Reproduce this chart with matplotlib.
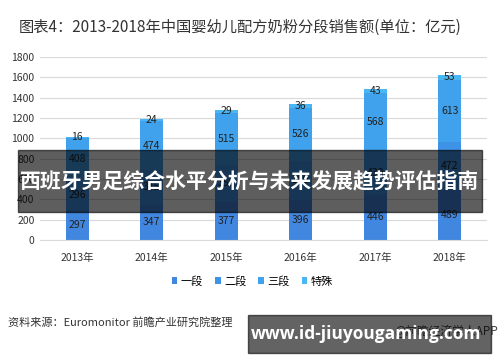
import matplotlib
matplotlib.use("Agg")
from matplotlib import pyplot as plt
import numpy as np

plt.rcParams['font.family'] = ['Noto Sans CJK SC', 'DejaVu Sans']

# 数据
years = ["2013年", "2014年", "2015年", "2016年", "2017年", "2018年"]
seg1 = [297, 347, 377, 396, 446, 489]
seg2 = [296, 345, 358, 380, 430, 472]
seg3 = [408, 474, 515, 526, 568, 613]
special = [16, 24, 29, 36, 43, 53]
series_names = ["一段", "二段", "三段", "特殊"]
colors = ["#4287df", "#3f93e6", "#40a2ec", "#4ab6f3"]
y_ticks = [0, 200, 400, 600, 800, 1000, 1200, 1400, 1600, 1800]

fig = plt.figure(figsize=(5, 3.62), dpi=100)
ax = fig.add_axes([0.08, 0.337, 0.894, 0.5055])

x = np.arange(len(years))
bottom = np.zeros(len(years))
for vals, name, col in zip([seg1, seg2, seg3, special], series_names, colors):
    bars = ax.bar(x, vals, width=0.31, bottom=bottom, color=col, label=name, zorder=2)
    for b, v, b0 in zip(bars, vals, bottom):
        ax.text(b.get_x() + b.get_width() / 2, b0 + v / 2, str(v),
                ha='center', va='center', fontsize=7.5, color='#222222', zorder=3)
    bottom += np.array(vals)

ax.set_xlim(-0.5, len(years) - 0.5)
ax.set_ylim(0, 1800)
ax.set_yticks(y_ticks)
ax.set_yticklabels([str(t) for t in y_ticks], fontsize=7.5, color='#333333')
ax.set_xticks(x)
ax.set_xticklabels(years, fontsize=7.5, color='#333333')
ax.tick_params(length=0, pad=4)
ax.tick_params(axis='x', pad=9)
ax.grid(axis='y', color='#d9d9d9', linewidth=0.8, zorder=0)
for s in ['top', 'right', 'left']:
    ax.spines[s].set_visible(False)
ax.spines['bottom'].set_color('#d9d9d9')

ax.legend(loc='center', bbox_to_anchor=(0.475, -0.225), ncol=4, frameon=False,
          fontsize=8, handlelength=0.5, handleheight=0.5, handletextpad=0.3,
          columnspacing=1.1)

fig.text(0.48, 0.925, "图表4：2013-2018年中国婴幼儿配方奶粉分段销售额(单位：亿元)",
         ha='center', va='center', fontsize=11, color='#333333')
fig.text(0.016, 0.11, "资料来源：Euromonitor 前瞻产业研究院整理",
         ha='left', va='center', fontsize=8, color='#333333')
fig.text(0.997, 1 - 331 / 362, "@前瞻经济学人APP", ha='right', va='center',
         fontsize=8.5, color='#444444', zorder=1)

# 覆盖横幅
fig.patches.append(plt.Rectangle((0.036, 1 - 212 / 362), 0.928, 62 / 362,
                                 transform=fig.transFigure, color='black',
                                 alpha=0.63, zorder=5))
fig.text(0.5, 1 - 182 / 362, "西班牙男足综合水平分析与未来发展趋势评估指南",
         ha='center', va='center', fontsize=15, fontweight='bold',
         color='white', zorder=6)
fig.patches.append(plt.Rectangle((0.496, 1 - 353 / 362), 0.486, 38 / 362,
                                 transform=fig.transFigure, color='black',
                                 alpha=0.61, zorder=5))
fig.text(0.733, 1 - 334 / 362, "www.id-jiuyougaming.com", ha='center',
         va='center', fontsize=12.5, fontweight='bold', color='white',
         family=['Open Sans', 'DejaVu Sans'], zorder=6)

fig.savefig("out.png", dpi=100, facecolor='white')
